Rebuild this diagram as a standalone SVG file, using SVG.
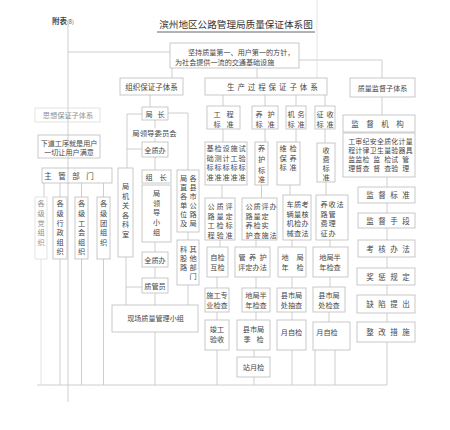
<svg xmlns="http://www.w3.org/2000/svg" width="450" height="430" viewBox="0 0 450 430">
<style>
.b{fill:none;stroke:#bcbcbc;stroke-width:0.8}
.c{fill:none;stroke:#c2c2c2;stroke-width:0.8}
.f{fill:none;stroke:#dcdcdc;stroke-width:0.8}
.t{font-family:"Noto Sans CJK SC","Noto Sans CJK JP",sans-serif;font-size:7.2px;fill:#474747;text-anchor:middle}
.g{font-size:6.9px}
.l{fill:#8f8f8f}
.s{font-size:7.1px}
</style>
<rect width="450" height="430" fill="#ffffff"/>
<g id="connectors">
<path class="c" d="M68 25V402M68 52H170M299 60H382V78M172 68V78M257 68V78M150 95V107M223 95V106M265 95V106M296 95V106M325 95V106M382 97V115"/>
<path class="f" d="M317 0V78"/>
<path class="c" d="M142 114H127V168M127 149H142M168 113H188V170M155 120V128M155 138V142M155 157V170M155 242V252M155 267V278M155 293V305M126 257V305M126 287H142M188 232V240M188 285V305M155 332V385M37 385H387"/>
<path class="c" d="M44 183V197M60 183V197M81.5 183V197M103.5 183V197M60 259V385M81.5 259V385M103.5 259V385"/>
<path class="f" d="M41 259V385"/>
<path class="c" d="M223 129V142M222 185V198M220 240V247M217 277V288M217 312V320M217 350V385M265 129V142M261.5 185V198M256 240V247M256 277V288M256 312V320M254 350V357M254 377V385M296 129V142M290 185V195M292 240V247M292 277V288M292 312V320M292 350V385M325 129V143M326 182V195M330 240V247M330 277V287M329 312V322M315 350V385M335 350V385"/>
<path class="c" d="M387 177V187M387 203V213M387 228V240M387 257V268M387 285V295M387 313V322M387 342V385"/>
</g>
<g id="note"><text class="t" x="52" y="24" style="text-anchor:start;font-weight:bold;font-size:7.5px">附表<tspan font-size="5.5" font-weight="normal">(8)</tspan></text></g>
<g id="title"><text class="t" x="236" y="28" style="font-size:9.6px;fill:#333">滨州地区公路管理局质量保证体系图</text><path d="M157 32H315" stroke="#666" stroke-width="1"/></g>
<g id="goal"><rect class="b" x="170" y="43" width="129" height="25"/><text class="t" style="text-anchor:start;font-size:7.1px"><tspan x="188" y="54.5">坚持质量第一、用户第一的方针，</tspan><tspan x="175" y="64.5">为社会提供一流的交通基础设施</tspan></text></g>
<g id="org"><rect class="b" x="120" y="78" width="63" height="17"/><text class="t" x="151.5" y="89.5" style="font-size:7.5px">组织保证子体系</text></g>
<g id="prod"><rect class="b" x="205" y="78" width="122" height="17"/><text class="t" x="227" y="89.5" style="text-anchor:start;font-size:7.5px" letter-spacing="2.9">生产过程保证子体系</text></g>
<g id="sup"><rect class="b" x="350" y="78" width="65" height="19"/><text class="t s" x="382.5" y="90.5">质量监督子体系</text></g>
<g id="think"><rect class="f" x="35" y="108" width="65" height="14"/><text class="t l" x="68" y="118">思想保证子体系</text></g>
<g id="nextproc"><rect class="b" x="38" y="135" width="62" height="23"/><text class="t s"><tspan x="69" y="145.5">下道工序就是用户</tspan><tspan x="69" y="154.5">一切让用户满意</tspan></text></g>
<g id="dept"><rect class="b" x="42" y="168" width="70" height="15"/><text class="t" x="48 62 76 90" y="178.5" style="font-size:7.5px">主管部门</text></g>
<g id="col-dang"><rect class="f" x="35" y="197" width="12" height="62"/><text class="t l" x="41 41 41 41 41" y="206 216 226 235 245">各级党组织</text></g>
<g id="col-xz"><rect class="b" x="53" y="197" width="14" height="62"/><text class="t" x="60 60 60 60 60 60" y="206 216 226 235 245 254">各级行政组织</text></g>
<g id="col-gh"><rect class="b" x="75" y="197" width="13" height="62"/><text class="t" x="81.5 81.5 81.5 81.5 81.5 81.5" y="206 216 226 235 245 254">各级工会组织</text></g>
<g id="col-tuan"><rect class="b" x="97" y="197" width="13" height="62"/><text class="t" x="103.5 103.5 103.5 103.5 103.5" y="206 216 226 235 245">各级团组织</text></g>
<g id="jgks"><rect class="b" x="118" y="168" width="15" height="89"/><text class="t" x="125.5 125.5 125.5 125.5 125.5 125.5" y="189 199 208 218 227 237">局机关各科室</text></g>
<g id="jz"><rect class="b" x="142" y="107" width="26" height="13"/><text class="t" x="149 161" y="116.5">局长</text></g>
<g id="ldwyh"><text class="t" x="154.5" y="135.5" style="font-size:7.4px">局领导委员会</text></g>
<g id="qzb1"><rect class="b" x="142" y="142" width="26" height="15"/><text class="t" x="155" y="152.5">全质办</text></g>
<g id="zz"><rect class="b" x="142" y="170" width="29" height="13"/><text class="t" x="149 163" y="179.5">组长</text></g>
<g id="ldxz"><rect class="b" x="142" y="185" width="29" height="57"/><text class="t" x="156.5 156.5 156.5 156.5 156.5" y="196 205.5 215 225 235">局领导小组</text></g>
<g id="jzdw"><rect class="b" x="177" y="170" width="22" height="62"/><text class="t" x="183.5 193 183.5 193 183.5 193 183.5 193 183.5 193 183.5 193" y="181 181 190 190 199 199 208 208 217 217 226 226">局各直县各市单公位路及局</text></g>
<g id="qtbm"><rect class="b" x="177" y="240" width="22" height="45"/><text class="t" x="183.5 193 183.5 193 183.5 193 193" y="252 252 261 261 270 270 279">科其股他路部门</text></g>
<g id="qzb2"><rect class="b" x="142" y="252" width="26" height="15"/><text class="t" x="155" y="262.5">全质办</text></g>
<g id="zgy"><rect class="b" x="142" y="278" width="26" height="15"/><text class="t" x="155" y="288.5">质管员</text></g>
<g id="xc"><rect class="b" x="112" y="305" width="86" height="27"/><text class="t s" x="155.5" y="321">现场质量管理小组</text></g>
<g id="gcbz"><rect class="b" x="207" y="106" width="33" height="23"/><text class="t"><tspan x="217 230" y="117">工程</tspan><tspan x="217 230" y="126.5">标准</tspan></text></g>
<g id="yhbz"><rect class="b" x="252" y="106" width="26" height="23"/><text class="t"><tspan x="259 271" y="117">养护</tspan><tspan x="259 271" y="126.5">标准</tspan></text></g>
<g id="jwbz"><rect class="b" x="286" y="106" width="20" height="23"/><text class="t"><tspan x="291 301" y="117">机务</tspan><tspan x="291 301" y="126.5">标准</tspan></text></g>
<g id="zsbz"><rect class="b" x="315" y="106" width="20" height="23"/><text class="t"><tspan x="320 330" y="117">征收</tspan><tspan x="320 330" y="126.5">标准</tspan></text></g>
<g id="jcbz"><rect class="b" x="205" y="142" width="42" height="43"/><text class="t"><tspan x="210 218 226 234 242" y="151">基检设施试</tspan><tspan x="210 218 226 234 242" y="160.5">础测计工验</tspan><tspan x="210 218 226 234 242" y="170">标标标标标</tspan><tspan x="210 218 226 234 242" y="179.5">准准准准准</tspan></text></g>
<g id="yhbz2"><rect class="b" x="255" y="142" width="13" height="43"/><text class="t" x="261.5 261.5 261.5 261.5" y="151 162 173 182">养护标准</text></g>
<g id="wjby"><rect class="b" x="277" y="142" width="23" height="43"/><text class="t"><tspan x="283 293" y="151">维检</tspan><tspan x="283 293" y="160.5">保养</tspan><tspan x="283 293" y="170">标准</tspan></text></g>
<g id="sfbz"><rect class="b" x="317" y="143" width="18" height="39"/><text class="t" x="326 326 326 326" y="153 162 171 180">收费标准</text></g>
<g id="glgc"><rect class="b" x="205" y="198" width="30" height="42"/><text class="t"><tspan x="211 220 229" y="209">公质评</tspan><tspan x="211 220 229" y="218.5">路量定</tspan><tspan x="211 220 229" y="228">工检标</tspan><tspan x="211 220 229" y="237.5">程验准</tspan></text></g>
<g id="glyh"><rect class="b" x="242" y="198" width="35" height="42"/><text class="t"><tspan x="249 257 265 273" y="209">公质评办</tspan><tspan x="249 257 265" y="218.5">路量定</tspan><tspan x="249 257 265" y="228">养检实</tspan><tspan x="249 257 265 273" y="237.5">护查施法</tspan></text></g>
<g id="clj"><rect class="b" x="283" y="195" width="28" height="45"/><text class="t"><tspan x="290 297.5 305" y="207">车质考</tspan><tspan x="290 297.5 305" y="216.5">辆量核</tspan><tspan x="290 297.5 305" y="226">机检办</tspan><tspan x="290 297.5 305" y="235.5">械查法</tspan></text></g>
<g id="ylf"><rect class="b" x="316" y="195" width="32" height="45"/><text class="t"><tspan x="324 332 340" y="207">养收法</tspan><tspan x="324 332" y="216.5">路管</tspan><tspan x="324 332" y="226">费理</tspan><tspan x="324 332" y="235.5">征办</tspan></text></g>
<g id="zjhj"><rect class="b" x="207" y="247" width="21" height="30"/><text class="t"><tspan x="217.5" y="260">自检</tspan><tspan x="217.5" y="270">互检</tspan></text></g>
<g id="gyh"><rect class="b" x="235" y="247" width="35" height="30"/><text class="t"><tspan x="242 252.5 263" y="260">管养护</tspan><tspan x="252.5" y="270">评定办法</tspan></text></g>
<g id="djn"><rect class="b" x="278" y="247" width="28" height="30"/><text class="t"><tspan x="285 300" y="260">地局</tspan><tspan x="285 300" y="270">年检</tspan></text></g>
<g id="djbn1"><rect class="b" x="313" y="247" width="35" height="30"/><text class="t"><tspan x="330" y="260">地局半</tspan><tspan x="330" y="270">年检查</tspan></text></g>
<g id="sgzy"><rect class="b" x="205" y="288" width="24" height="24"/><text class="t"><tspan x="217" y="298">施工专</tspan><tspan x="217" y="307.5">业检查</tspan></text></g>
<g id="djbn2"><rect class="b" x="242" y="288" width="28" height="24"/><text class="t"><tspan x="256" y="298">地局半</tspan><tspan x="256" y="307.5">年检查</tspan></text></g>
<g id="xscc"><rect class="b" x="277" y="288" width="29" height="24"/><text class="t"><tspan x="291.5" y="298">县市局</tspan><tspan x="291.5" y="307.5">处抽查</tspan></text></g>
<g id="xsjc"><rect class="b" x="313" y="287" width="32" height="25"/><text class="t"><tspan x="329" y="298">县市局</tspan><tspan x="329" y="307.5">处检查</tspan></text></g>
<g id="jgys"><rect class="b" x="205" y="320" width="24" height="30"/><text class="t"><tspan x="217" y="332">竣工</tspan><tspan x="217" y="342">验收</tspan></text></g>
<g id="xsjj"><rect class="b" x="237" y="320" width="33" height="30"/><text class="t"><tspan x="253.5" y="332">县市局</tspan><tspan x="247 260" y="342">季检</tspan></text></g>
<g id="yzj1"><rect class="b" x="277" y="320" width="29" height="30"/><text class="t" x="291.5" y="335">月自检</text></g>
<g id="yzj2"><rect class="b" x="313" y="322" width="37" height="28"/><text class="t" x="327" y="335">月自检</text></g>
<g id="zyj"><rect class="b" x="237" y="357" width="33" height="20"/><text class="t" x="253.5" y="370">站月检</text></g>
<g id="jdjg"><rect class="b" x="343" y="115" width="72" height="17"/><text class="t" x="355 370 385 400" y="126.5" style="font-size:7.5px">监督机构</text></g>
<g id="jdnr"><rect class="b" x="343" y="133" width="72" height="44"/><text class="t g"><tspan x="351.6 358.8 366 373.2 380.4 387.6 394.8 402 409.2" y="143.5">工审纪安全质化计量</tspan><tspan x="351.6 358.8 366 373.2 380.4 387.6 394.8 402 409.2" y="152.5">程计律卫生量验器具</tspan><tspan x="351.6 358.8 366 376.8 387.6 394.8 405.6" y="161.5">监监检监检试管</tspan><tspan x="351.6 358.8 366 376.8 387.6 394.8 405.6" y="170.5">理督查督查验理</tspan></text></g>
<g id="jdbz"><rect class="b" x="358" y="187" width="57" height="16"/><text class="t" x="370 382 394 406" y="198" style="font-size:7.5px">监督标准</text></g>
<g id="jdsd"><rect class="b" x="358" y="213" width="57" height="15"/><text class="t" x="370 382 394 406" y="223.5" style="font-size:7.5px">监督手段</text></g>
<g id="khbf"><rect class="b" x="358" y="240" width="57" height="17"/><text class="t" x="370 382 394 406" y="251.5" style="font-size:7.5px">考核办法</text></g>
<g id="jcgd"><rect class="b" x="357" y="268" width="58" height="17"/><text class="t" x="370 382 394 406" y="279.5" style="font-size:7.5px">奖惩规定</text></g>
<g id="qxtc"><rect class="b" x="357" y="295" width="58" height="18"/><text class="t" x="370 382 394 406" y="307" style="font-size:7.5px">缺陷提出</text></g>
<g id="zgcs"><rect class="b" x="357" y="322" width="58" height="20"/><text class="t" x="370 382 394 406" y="335" style="font-size:7.5px">整改措施</text></g>
</svg>
